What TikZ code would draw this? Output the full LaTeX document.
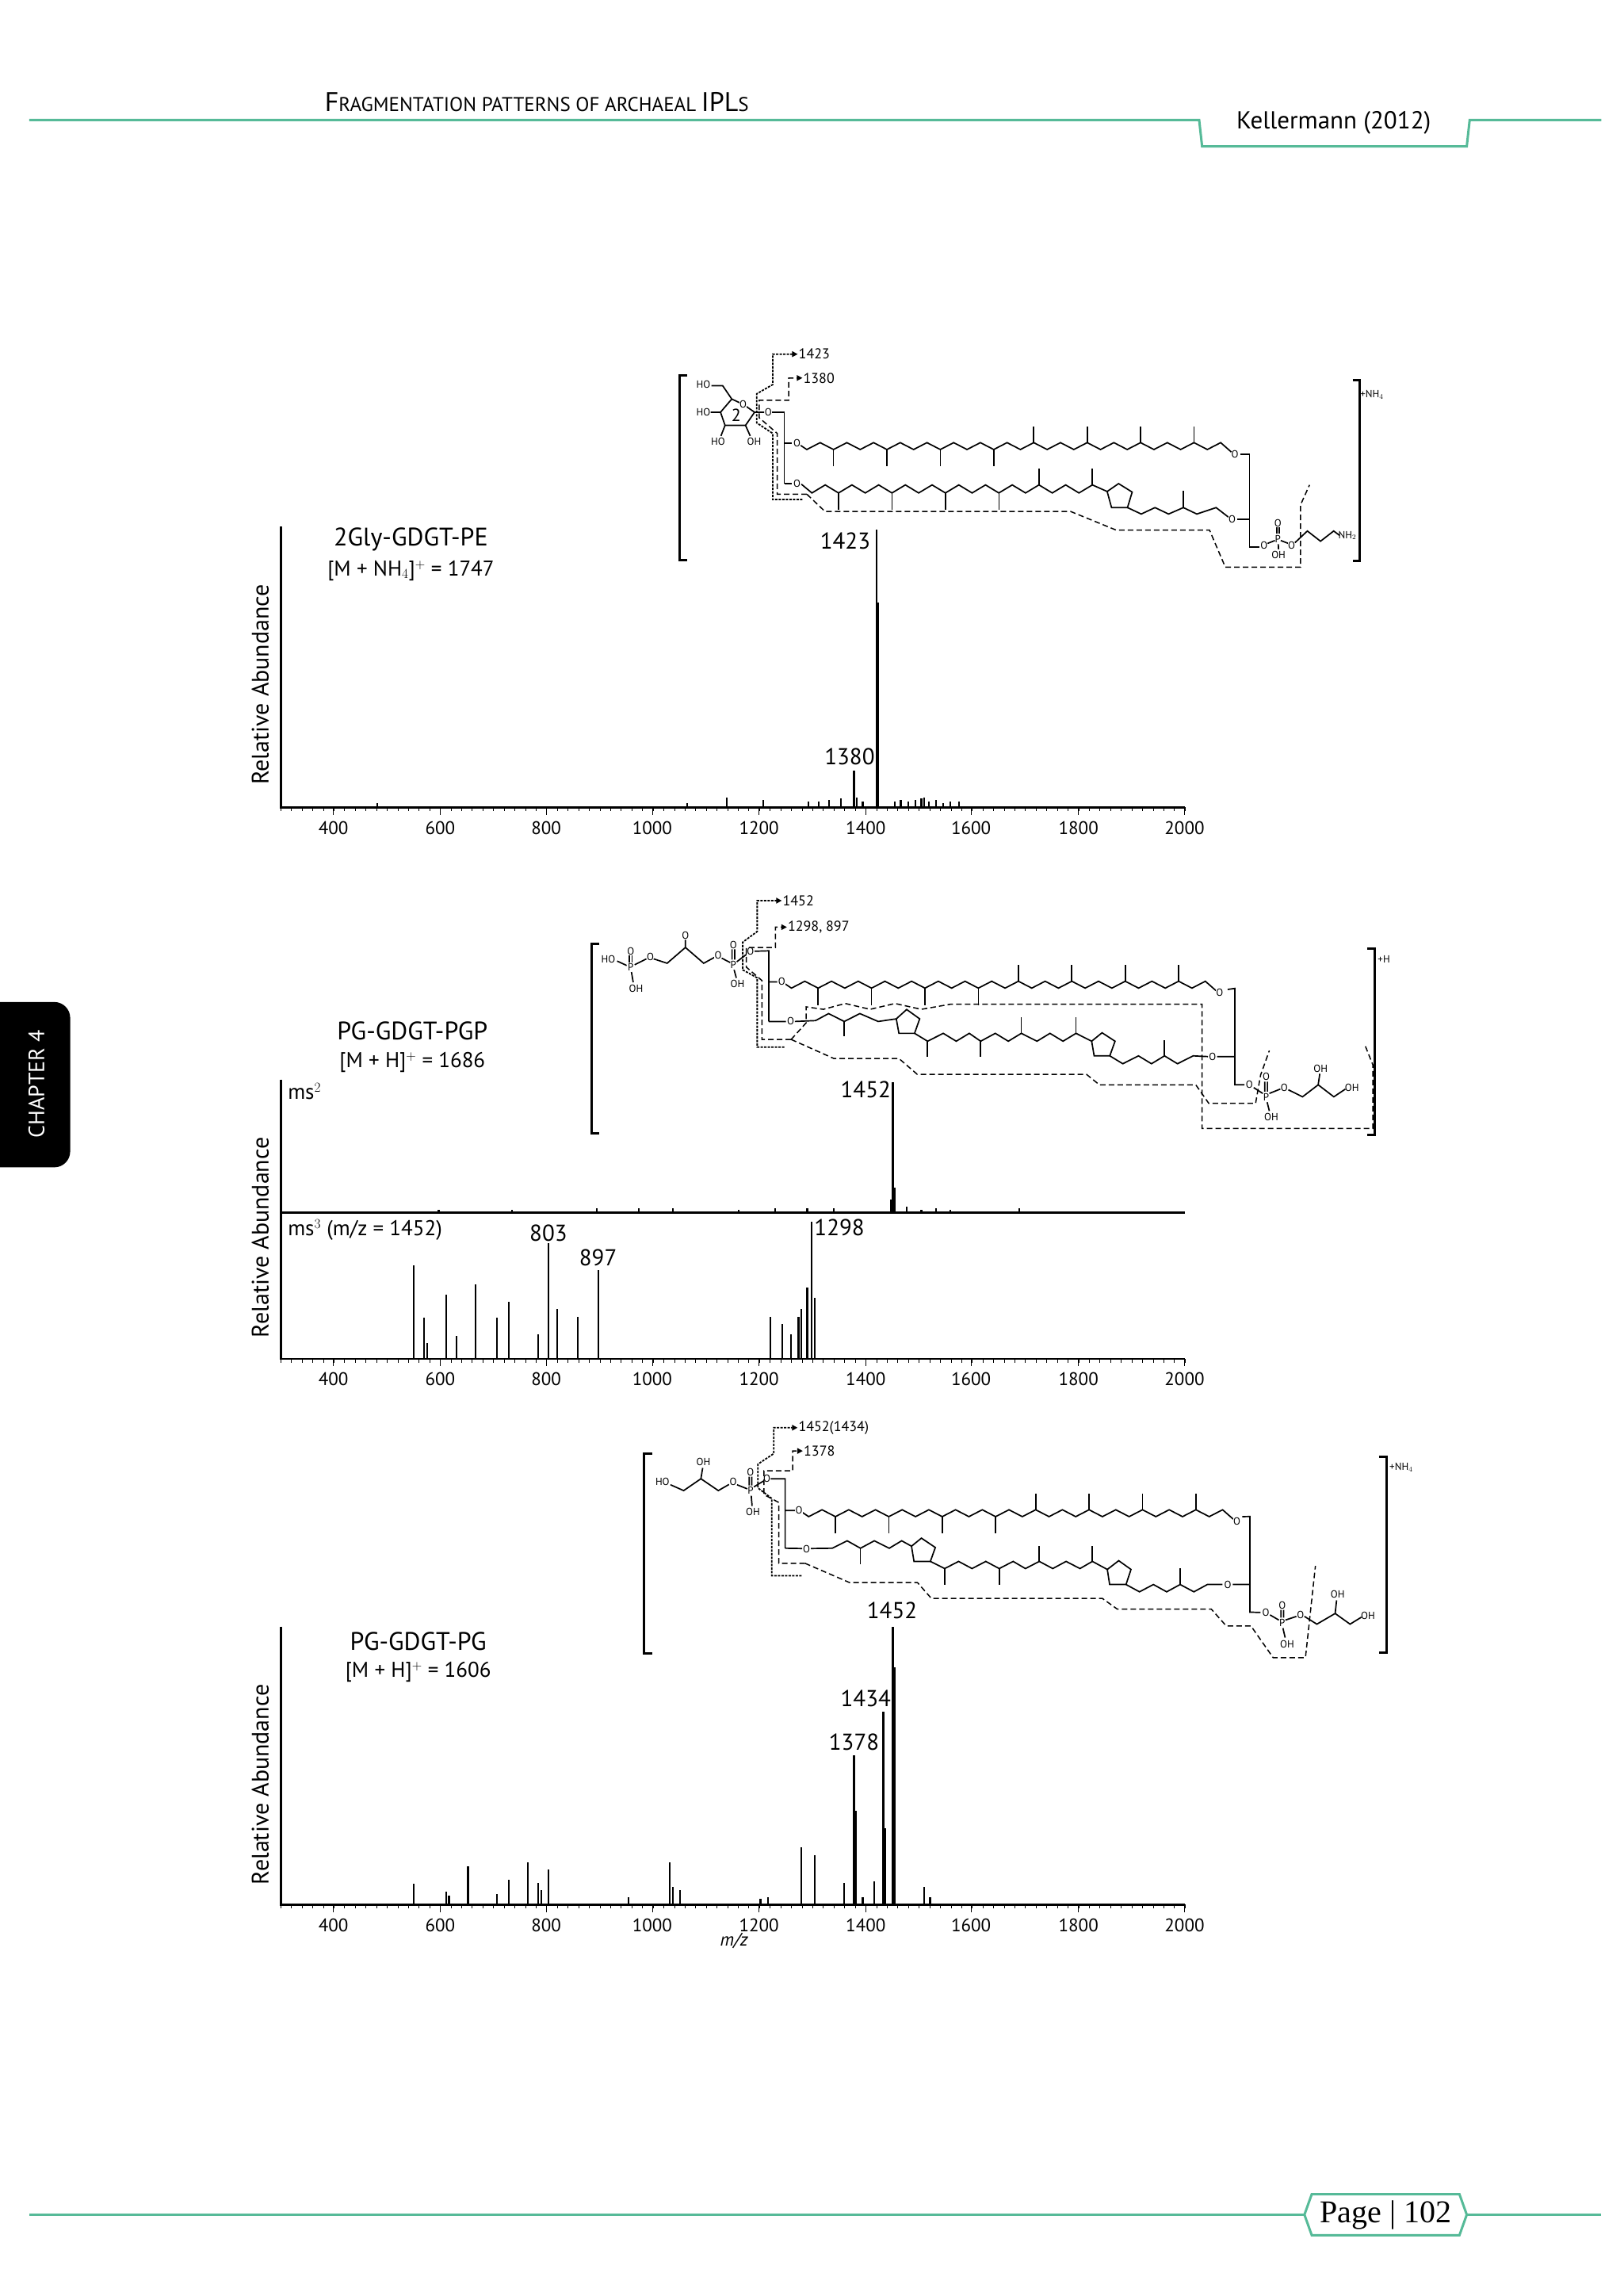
\documentclass[tikz,border=0pt]{standalone}
\usepackage{fontspec}
\setmainfont{PT Sans}
\newfontfamily\serifpage{Liberation Serif}
\usetikzlibrary{arrows.meta}
\definecolor{teal1}{RGB}{86,186,152}
\newcommand\zigup[2]{%
 \begin{scope}[shift={(#1,#2)}]
 \draw[bond] (2.5,1.5) -- (6.7,4.3) \foreach \i in {1,...,31}{ -- ({6.7+9.13*\i},{4.3-4.7*mod(\i,2)}) } -- (297,6);
 \foreach \i in {2,6,10,14}{\draw[bond] ({6.7+9.13*\i},4.3) -- ++(0,11.5);}
 \foreach \i in {17,21,25,29}{\draw[bond] ({6.7+9.13*\i},-0.4) -- ++(0,-11);}
 \node[atom] at (0,0) {O};
 \node[atom] at (299.5,7.6) {O};
 \end{scope}}
\newcommand\atick[1]{%
 \foreach \k in {0,...,85}{\draw[thick] ({192+7.275*\k},#1) -- ++(0,2.5);}
 \foreach \v/\xx in {400/228,600/301,800/373.5,1000/446,1200/519,1400/592,1600/664,1800/737.5,2000/810}{
   \draw[thick] (\xx,#1) -- ++(0,5);
   \node[tick] at (\xx,#1+14) {\v};}}
\begin{document}
\begin{tikzpicture}[x=1.845pt,y=-1.845pt,
 bond/.style={line width=1.7pt,line join=miter},
 atom/.style={font=\fontsize{13}{13}\selectfont,inner sep=0.2pt,fill=white},
 atomt/.style={font=\fontsize{13}{13}\selectfont,inner sep=0.2pt},
 frag/.style={line width=1.5pt,dash pattern=on 7pt off 4pt},
 dense/.style={line width=1.8pt,dash pattern=on 3pt off 1.5pt},
 arr/.style={-{Triangle[length=7pt,width=7pt]}},
 flab/.style={font=\fontsize{18}{18}\selectfont,anchor=west,inner sep=1pt},
 axis/.style={line width=2.6pt},
 peak/.style={line width=2.2pt},
 tick/.style={font=\fontsize{23}{23}\selectfont},
 plab/.style={font=\fontsize{29}{29}\selectfont},
 title/.style={font=\fontsize{32}{32}\selectfont},
 sub/.style={font=\fontsize{27}{27}\selectfont},
 ylab/.style={font=\fontsize{30}{30}\selectfont,rotate=90},
 brk/.style={line width=3pt}]
\useasboundingbox[fill=white] (0,0) rectangle (1110,1569.6);
% header
\node[anchor=base west,inner sep=0] (hd) at (222,76) {\fontsize{34}{34}\selectfont F\fontsize{25}{25}\selectfont RAGMENTATION PATTERNS OF ARCHAEAL \fontsize{34}{34}\selectfont IPL\fontsize{25}{25}\selectfont S};
\draw[teal1,line width=3pt] (20,82) -- (820,82) -- (822,100) -- (1003,100) -- (1005,82) -- (1095,82);
\node[font=\fontsize{31}{31}\selectfont] (km) at (912,84) {Kellermann (2012)};
% footer
\draw[teal1,line width=3pt] (20,1514) -- (892,1514) (1003,1514) -- (1095,1514);
\draw[teal1,line width=3pt,fill=white] (897,1500) -- (998,1500) -- (1003,1514) -- (998,1528) -- (897,1528) -- (892,1514) -- cycle;
\node[font=\serifpage\fontsize{40}{40}\selectfont] (pg) at (947.5,1514) {Page | 102};
% chapter tab
\fill[black,rounded corners=20pt] (-20,685) rectangle (48,798);
\node[white,rotate=90,font=\fontsize{28}{28}\selectfont] (ch) at (25,741) {CHAPTER 4};

%%%%%%%%%%%%%%%% PANEL 1
\draw[axis] (192,360) -- (192,552) -- (810,552);
\atick{552}
\node[title] (t1) at (281,369) {2Gly-GDGT-PE};
\node[sub] (s1) at (281,390) {[M + NH$_4$]$^+$ = 1747};
\node[ylab] (y1) at (178,468) {Relative Abundance};
\foreach \x/\y in {599.3/362,600.6/412,584/527,586/545,497/545,522/547,553/548,560/548,567/547,575/546,590/548,612/548,616/547,621/548,626/547,630/546,635/548,640/547,645/549,650/548,656/548,632/545,258/549,470/549}
  \draw[peak] (\x,552) -- (\x,\y);
\node[plab] (l1423) at (578,370) {1423};
\node[plab] (l1380) at (581,517) {1380};
% structure 1
\draw[brk] (470,256.5) -- (465,256.5) -- (465,383) -- (470,383);
\draw[brk] (925,259.8) -- (929.8,259.8) -- (929.8,383.6) -- (925,383.6);
\node[atomt,anchor=west] (nh4a) at (930,270) {+NH$_4$};
\zigup{545}{303}
% lower chain 1
\draw[bond] (548,331) -- (555.2,337) \foreach \k in {0,...,9}{ -- ({564.3+18.27*\k},331.5) -- ({573.4+18.27*\k},337)} -- (747,331.5) -- (757.1,336);
\foreach \xx in {573.5,610,646.5,683.1}{\draw[bond] (\xx,337) -- ++(0,11.5);}
\foreach \xx in {710.5,747}{\draw[bond] (\xx,331.5) -- ++(0,-11);}
\draw[bond] (757.1,336) -- (764.9,330.6) -- (774.2,336.4) -- (771,347) -- (760.1,347) -- cycle;
\draw[bond] (771,347) -- (780.4,351.4) -- (789.8,347) -- (799.1,351.4) -- (809.2,347) -- (818.4,351.4) -- (831.6,347) -- (840,353.5);
\draw[bond] (809.2,347) -- (809.2,335.5);
\node[atom] (o1b) at (545,330.5) {O};
\node[atom] (o1c) at (842.5,355) {O};
% glycerol backbones
\draw[bond] (528,281.8) -- (536.3,281.8) -- (536.3,330.5) (536.3,303) -- (541.5,303) (536.3,330.5) -- (541.5,330.5);
\draw[bond] (848,310.6) -- (854.5,310.6) -- (854.5,374) -- (861,374) (846,355) -- (854.5,355);
% sugar
\draw[bond] (500.4,272.8) -- (506,275.4) (510.5,278) -- (516,281.8) -- (509.8,290.8) -- (495.8,290.8) -- (492.7,281.8) -- (500.4,272.8) -- (494.2,263.7) -- (486.5,263.7);
\draw[bond] (516,281.8) -- (522.5,281.8) (492.7,281.8) -- (486,281.8) (495.8,290.8) -- (493,298) (509.8,290.8) -- (513,298);
\node[atom] (sO) at (508.2,276.4) {O};
\node[atom] (go) at (525.3,281.8) {O};
\node[atomt] (s2) at (503.4,284) {\fontsize{22}{22}\selectfont 2};
\node[atomt,anchor=east] (ho1) at (486,263) {HO};
\node[atomt,anchor=east] (ho2) at (486,281.8) {HO};
\node[atomt] (ho3) at (491,302) {HO};
\node[atomt] (oh1) at (515.7,302) {OH};
% phosphate PE
\node[atom] (p1o) at (864.4,372.6) {O};
\node[atomt] (p1) at (873.8,368.6) {P};
\draw[bond] (873,365) -- (873,360.5) (874.6,365) -- (874.6,360.5);
\node[atomt] (p1d) at (873.8,357.5) {O};
\node[atomt] (p1h) at (874.3,379.5) {OH};
\draw[bond] (866.8,371.5) -- (871.8,369.5) (875.8,369.5) -- (881,371.5) (874.1,372) -- (874.3,375.5);
\node[atom] (p1r) at (883.2,372.6) {O};
\draw[bond] (885.5,371) -- (894,363) -- (903,370) -- (912,363) -- (916,366);
\node[atomt,anchor=west] (nh2) at (915,366) {NH$_2$};
% fragmentation
\draw[dense,arr] (548.7,341.5) -- (528.4,341.5) -- (528.4,296.3) -- (517.5,289.1) -- (517.5,269.2) -- (528.4,262.9) -- (528.4,242.1) -- (545.5,242.1);
\node[flab] (a1423) at (545.5,242.1) {1423};
\draw[frag,arr] (551.8,337.9) -- (531.5,337.9) -- (531.5,296.3) -- (519.1,285.5) -- (519.1,273.7) -- (539.4,273.7) -- (539.4,258.4) -- (548.7,258.4);
\node[flab] (a1380) at (548.7,258.4) {1380};
\draw[frag] (551.8,337.9) -- (564.2,349.7) -- (732.2,349.7) -- (763.3,362.4) -- (827.1,362.4) -- (837.9,387.7) -- (889.3,387.7) -- (889.3,345.2) -- (895.5,331.5);

%%%%%%%%%%%%%%%% PANEL 2
\draw[axis] (192,738) -- (192,929) -- (810,929);
\draw[axis] (192,829) -- (810,829);
\atick{929}
\node[title] (t2) at (282,705) {PG-GDGT-PGP};
\node[sub] (s2b) at (282,726) {[M + H]$^+$ = 1686};
\node[sub,anchor=west] (ms2) at (195,746) {ms$^2$};
\node[sub,anchor=west] (ms3) at (195,841) {ms$^3$ (m/z = 1452)};
\node[ylab] (y2) at (178,846) {Relative Abundance};
\foreach \x/\y in {610.5/740,612/812,609/820,408/826,437/826,460/826,505/827,530/826,552/826,570/826,620/825,630/827,640/826,650/827,697/826,300/827,350/827}
  \draw[peak] (\x,829) -- (\x,\y);
\foreach \x/\y in {283/865,290/901,292/918,305/885,312/913,325/878,340/901,348/890,368/912,375/850,381/895,395/900,409/868,527/900,535/905,541/912,546/900,548/895,552/880,555/835,557/887}
  \draw[peak] (\x,929) -- (\x,\y);
\node[plab] (l1452) at (592,745) {1452};
\node[plab] (l803) at (375,843) {803};
\node[plab] (l897) at (409,860) {897};
\node[plab] (l1298) at (574,839) {1298};
% structure 2
\draw[brk] (410,645) -- (404.6,645) -- (404.6,775) -- (410,775);
\draw[brk] (935,648.6) -- (940.3,648.6) -- (940.3,776) -- (935,776);
\node[atomt,anchor=west] (hplus) at (942,656) {+H};
\zigup{534.5}{671.2}
\draw[bond] (543.5,698.3) -- (557.7,697.7) -- (566.6,692.9) -- (577.3,698.3) -- (588,692.9) -- (600.5,698.3) -- (612.9,696.5) -- (620,690.1) -- (628.9,696.5) -- (625.4,706.4) -- (614.7,706.4) -- (612.9,696.5);
\draw[bond] (577.3,698.3) -- (577.3,708.2);
\draw[bond] (625.4,706.4) -- (634.3,711.8) -- (645,706.4) -- (653.9,711.8) -- (662.8,706.4) -- (670.6,711.8) -- (680.6,706.4) -- (689.5,711.8) -- (698.4,706.4) -- (709.1,711.8) -- (718,706.4) -- (726.9,711.8) -- (735.8,706.4) -- (746.5,711.8) -- (753.6,706) -- (762.5,711.8) -- (758.9,721.8) -- (748.2,721.8) -- (746.5,711.8);
\foreach \xx in {634.3,670.6}{\draw[bond] (\xx,711.8) -- (\xx,722.7);}
\foreach \xx in {698.4,735.8}{\draw[bond] (\xx,706.4) -- (\xx,695.6);}
\draw[bond] (758.9,721.8) -- (767.8,727.2) -- (778.5,721.8) -- (787.4,727.2) -- (796.3,721.8) -- (805.2,727.2) -- (815.9,721.8) -- (826,722.3);
\draw[bond] (796.3,721.8) -- (796.3,710.9);
\node[atom] (o2b) at (540.6,698.3) {O};
\node[atom] (o2c) at (829.1,722.3) {O};
\draw[bond] (515.5,650.3) -- (525.7,650) -- (525.7,698.3) (525.7,671.2) -- (531.5,671.2) (525.7,698.3) -- (537.5,698.3);
\draw[bond] (839.5,676.4) -- (844.4,675.7) -- (844.4,741.6) -- (851,741.6) (832.3,722.3) -- (844.4,722.3);
% left head PGP
\node[atomt] (ho21) at (416,655.8) {HO};
\node[atomt] (p21) at (431.3,661.2) {P};
\draw[bond] (430.4,657.8) -- (430.4,653) (432.2,657.8) -- (432.2,653);
\node[atomt] (p21d) at (431.3,650.2) {O};
\node[atomt] (p21h) at (434.9,676) {OH};
\draw[bond] (422,657) -- (428.5,660) (431.8,664.5) -- (433,671.5) (434,659.5) -- (442,655.5);
\node[atom] (o21) at (444.8,654) {O};
\draw[bond] (447,655.5) -- (456.2,658.5) -- (468.7,647.7) -- (481.2,658.5) -- (488.5,654.5) (468.7,647.7) -- (468.7,642.5);
\node[atomt] (ok) at (468.7,639.5) {O};
\node[atom] (o22) at (491.1,653.1) {O};
\node[atomt] (p22) at (501.5,659.4) {P};
\draw[bond] (493.5,655) -- (499.3,658) (500.6,656) -- (500.6,649) (502.4,656) -- (502.4,649) (502,663) -- (503.5,668.5) (503.8,657.5) -- (511,652);
\node[atomt] (p22d) at (501.5,645.9) {O};
\node[atomt] (p22h) at (504.3,672.8) {OH};
\node[atom] (o23) at (513.2,650.4) {O};
% right head PG
\node[atom] (o24) at (854.4,741.6) {O};
\node[atomt] (p23) at (865.8,749.8) {P};
\draw[bond] (857.3,743.5) -- (863.5,747.5) (864.9,746.3) -- (864.9,739.5) (866.7,746.3) -- (866.7,739.5) (866.5,753.5) -- (868,759.5) (868,747.5) -- (875.5,744.5);
\node[atomt] (p23d) at (865.8,736.2) {O};
\node[atomt] (p23h) at (869.3,763.8) {OH};
\node[atom] (o25) at (878.2,743.4) {O};
\draw[bond] (881,745) -- (890.7,749.8) -- (901.4,741.6) -- (912.1,749.8) -- (920,744.5) (901.4,741.6) -- (902.5,734);
\node[atomt] (oh23) at (903.1,730.5) {OH};
\node[atomt,anchor=west] (oh24) at (919.5,743.4) {OH};
% fragmentation 2
\draw[dense,arr] (536.4,715.8) -- (517.8,715.8) -- (517.8,668.5) -- (507.9,663) -- (507.9,644.1) -- (517.8,636.8) -- (517.8,615.7) -- (534.6,615.7);
\node[flab] (a1452) at (534.6,615.7) {1452};
\draw[frag,arr] (541,710.6) -- (521,710.6) -- (521,670.3) -- (510.4,661.2) -- (510.4,647.7) -- (530.3,647.7) -- (530.3,633.8) -- (538.1,633.8);
\node[flab] (a1298) at (538.1,633.8) {1298, 897};
\draw[frag] (541,710.6) -- (551.3,699.2) -- (551.3,688.3) -- (563,690) -- (578,686) -- (595,690) -- (612,686) -- (630,690) -- (650,686.5) -- (822,686.5) -- (822,771.5) -- (938.8,771.5) -- (938.8,728) -- (933.4,714.5);
\draw[frag] (541,710.6) -- (570.2,723.6) -- (614.7,723.6) -- (627.2,734.4) -- (742.9,734.4) -- (751.8,741.6) -- (817.7,741.6) -- (826.6,754.3) -- (858.6,754.3) -- (862,735) -- (868,718.2);

%%%%%%%%%%%%%%%% PANEL 3
\draw[axis] (192,1112) -- (192,1302) -- (810,1302);
\atick{1302}
\node[title] (t3) at (286,1122) {PG-GDGT-PG};
\node[sub] (s3b) at (286,1143) {[M + H]$^+$ = 1606};
\node[ylab] (y3) at (178,1220) {Relative Abundance};
\foreach \x/\y in {610.5/1112,612/1140,604/1170,605.5/1250,584/1200,585.5/1238,283/1288,305/1293,307/1296,320/1276,340/1295,348/1285,361/1273,368/1287,370/1292,375/1278,458/1273,460/1290,465/1292,548/1263,557/1268,577/1287,590/1297,598/1286,632/1290,636/1297,430/1297,520/1298,525/1297}
  \draw[peak] (\x,1302) -- (\x,\y);
\node[plab] (l1452c) at (610,1101) {1452};
\node[plab] (l1434) at (592,1161) {1434};
\node[plab] (l1378) at (584,1191) {1378};
\node[font=\fontsize{23}{23}\selectfont\itshape] (mz) at (502,1327) {m/z};
% structure 3
\draw[brk] (446,993.7) -- (440.6,993.7) -- (440.6,1130.1) -- (446,1130.1);
\draw[brk] (943,996) -- (948.3,996) -- (948.3,1130) -- (943,1130);
\node[atomt,anchor=west] (nh4c) at (950,1003) {+NH$_4$};
\zigup{546.3}{1032.5}
\draw[bond] (554.5,1058.6) -- (569.1,1058.4) -- (579.3,1053.3) -- (588.4,1058.4) -- (597.9,1053.3) -- (608.1,1058.4) -- (616.6,1053.3) -- (623.3,1057) -- (630.1,1051.5) -- (639.6,1057.9) -- (636.2,1067.4) -- (625,1067.4) -- (623.3,1057);
\draw[bond] (588.4,1058.4) -- (588.4,1069.2);
\draw[bond] (636.2,1067.4) -- (646,1072.3) -- (655.5,1067.4) -- (664.7,1072.3) -- (674.1,1067.4) -- (683.3,1072.3) -- (692.8,1067.4) -- (701.2,1072.3) -- (710.7,1067.4) -- (719.9,1072.3) -- (729,1067.4) -- (738.5,1072.3) -- (747,1067.4) -- (757.2,1072.9) -- (765,1066.9) -- (773.4,1072.9) -- (770,1083.2) -- (758.8,1083.2) -- (757.2,1072.9);
\foreach \xx in {646,683.3}{\draw[bond] (\xx,1072.3) -- (\xx,1083.2);}
\foreach \xx in {710.7,747}{\draw[bond] (\xx,1067.4) -- (\xx,1056.6);}
\draw[bond] (770,1083.2) -- (779.2,1088.2) -- (788.7,1083.2) -- (797.8,1088.2) -- (807,1083.2) -- (816.4,1088.2) -- (825.6,1083.2) -- (836,1083.2);
\draw[bond] (807,1083.2) -- (807,1072.3);
\node[atom] (o3b) at (551.5,1058.8) {O};
\node[atom] (o3c) at (839.5,1083.2) {O};
\draw[bond] (527,1010.9) -- (536.9,1010.9) -- (536.9,1058.4) (536.9,1032.6) -- (543.5,1032.6) (536.9,1058.4) -- (548.5,1058.6);
\draw[bond] (849.5,1036.8) -- (854.7,1036.7) -- (854.7,1102.1) -- (862,1102.3) (843,1083.2) -- (854.7,1083.2);
% left head PG
\node[atomt] (ho31) at (453,1013.2) {HO};
\draw[bond] (458.5,1015) -- (467.5,1019) -- (479.3,1010.9) -- (491.2,1019) -- (498.5,1014.8) (479.3,1010.9) -- (480.5,1003.5);
\node[atomt] (oh31) at (481,999.5) {OH};
\node[atom] (o31) at (501.4,1013.2) {O};
\node[atomt] (p31) at (513.2,1019) {P};
\draw[bond] (504,1015) -- (511,1017.8) (512.3,1015.5) -- (512.3,1009.5) (514.1,1015.5) -- (514.1,1009.5) (513.7,1022.5) -- (514.3,1029.5) (515.5,1016.5) -- (522,1012.5);
\node[atomt] (p31d) at (513.2,1006.7) {O};
\node[atomt] (p31h) at (514.9,1033.6) {OH};
\node[atom] (o32) at (524.4,1010.9) {O};
% right head PG
\node[atom] (o33) at (865.6,1102.5) {O};
\node[atomt] (p32) at (876.8,1109.4) {P};
\draw[bond] (868.5,1104) -- (874.5,1107.5) (875.9,1105.8) -- (875.9,1100.5) (877.7,1105.8) -- (877.7,1100.5) (877.3,1113) -- (878.8,1119.5) (879,1107.5) -- (886.5,1105);
\node[atomt] (p32d) at (876.8,1097.6) {O};
\node[atomt] (p32h) at (880.2,1124.3) {OH};
\node[atom] (o34) at (889.3,1103.9) {O};
\draw[bond] (892,1105) -- (900.5,1110.3) -- (913,1103) -- (923.2,1110.3) -- (931,1105.5) (913,1103) -- (914,1094);
\node[atomt] (oh33) at (914.7,1090) {OH};
\node[atomt,anchor=west] (oh34) at (930.5,1104.3) {OH};
% fragmentation 3
\draw[dense,arr] (548.1,1077.2) -- (527.8,1077.2) -- (527.8,1024.4) -- (518.3,1017.2) -- (518.3,1000.9) -- (529.1,993.7) -- (529.1,976) -- (545.4,976);
\node[flab] (a1452c) at (545.4,976) {1452(1434)};
\draw[frag,arr] (550.5,1068.7) -- (532.5,1068.7) -- (532.5,1027.1) -- (522.4,1021.7) -- (522.4,1005.5) -- (542,1005.5) -- (542,991.9) -- (549,991.9);
\node[flab] (a1378) at (549,991.9) {1378};
\draw[frag] (550.5,1068.7) -- (581,1081.9) -- (627.4,1081.9) -- (636.9,1092.7) -- (753.8,1092.7) -- (764,1100) -- (828.3,1100) -- (838.5,1111.5) -- (855.4,1111.5) -- (870.6,1133.2) -- (892.7,1133.2) -- (899.5,1070.5);
\end{tikzpicture}
\end{document}
